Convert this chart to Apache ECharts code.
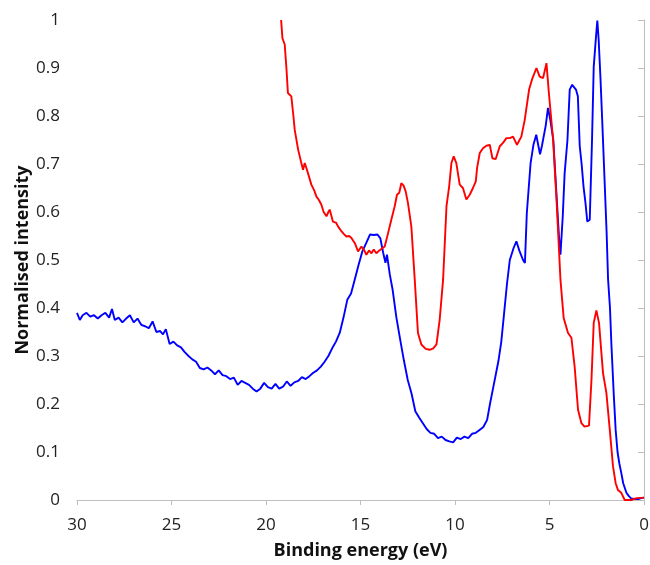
<!DOCTYPE html>
<html>
<head>
<meta charset="utf-8">
<script src="https://cdn.jsdelivr.net/npm/echarts@6/dist/echarts.min.js"></script>
<style>html,body{margin:0;padding:0;background:#fff}#c{width:650px;height:565px}</style>
</head>
<body>
<div id="c"></div>
<script>
var xTitle = 'Binding energy (eV)';
var yTitle = 'Normalised intensity';

var blueX = [30,29.85,29.7,29.5,29.3,29.1,28.9,28.7,28.5,28.3,28.15,28.0,27.8,27.6,27.4,27.2,27.0,26.8,26.6,26.4,26.2,26.0,25.8,25.6,25.45,25.3,25.1,24.9,24.7,24.5,24.3,24.1,23.9,23.7,23.5,23.3,23.1,22.9,22.7,22.5,22.3,22.1,21.9,21.7,21.5,21.3,21.1,20.9,20.7,20.5,20.3,20.1,19.9,19.7,19.5,19.3,19.1,18.9,18.7,18.5,18.3,18.1,17.9,17.7,17.5,17.3,17.1,16.9,16.7,16.5,16.3,16.1,15.9,15.7,15.5,15.3,15.1,14.9,14.7,14.5,14.3,14.1,13.95,13.8,13.68,13.6,13.45,13.3,13.1,12.9,12.7,12.5,12.3,12.1,11.9,11.7,11.5,11.3,11.1,10.9,10.7,10.5,10.3,10.1,9.9,9.7,9.5,9.3,9.1,8.9,8.7,8.5,8.3,8.15,8.0,7.85,7.7,7.55,7.4,7.25,7.1,6.9,6.75,6.6,6.4,6.3,6.2,6.1,6.0,5.85,5.7,5.6,5.5,5.4,5.3,5.2,5.08,4.95,4.8,4.65,4.5,4.42,4.3,4.2,4.05,3.93,3.8,3.72,3.6,3.5,3.4,3.3,3.2,3.1,3.0,2.87,2.75,2.66,2.55,2.47,2.4,2.3,2.2,2.08,1.98,1.9,1.8,1.72,1.6,1.5,1.4,1.3,1.2,1.1,0.93,0.8,0.67,0.5,0.3,0.15,0];
var blueY = [0.39,0.375,0.385,0.39,0.382,0.385,0.378,0.385,0.39,0.38,0.398,0.375,0.38,0.37,0.378,0.385,0.37,0.378,0.365,0.362,0.358,0.372,0.35,0.352,0.345,0.356,0.325,0.33,0.322,0.318,0.308,0.3,0.293,0.288,0.275,0.272,0.276,0.27,0.262,0.27,0.26,0.258,0.252,0.255,0.24,0.248,0.244,0.24,0.232,0.226,0.232,0.244,0.235,0.232,0.242,0.232,0.236,0.247,0.238,0.245,0.248,0.256,0.252,0.258,0.265,0.27,0.278,0.288,0.3,0.316,0.33,0.348,0.38,0.417,0.43,0.46,0.49,0.518,0.535,0.553,0.552,0.553,0.545,0.515,0.494,0.511,0.47,0.438,0.38,0.334,0.29,0.25,0.222,0.185,0.172,0.16,0.148,0.14,0.138,0.129,0.132,0.125,0.122,0.12,0.13,0.127,0.132,0.129,0.138,0.14,0.146,0.152,0.167,0.2,0.23,0.26,0.29,0.33,0.39,0.45,0.5,0.525,0.539,0.52,0.5,0.494,0.598,0.65,0.702,0.74,0.761,0.74,0.72,0.738,0.735,0.78,0.817,0.79,0.751,0.65,0.55,0.511,0.59,0.68,0.75,0.855,0.865,0.869,0.855,0.841,0.737,0.7,0.653,0.62,0.58,0.584,0.75,0.903,0.96,0.999,0.96,0.876,0.78,0.66,0.56,0.459,0.4,0.32,0.22,0.146,0.1,0.075,0.056,0.035,0.015,0.008,0.003,0.002,0.002,0.004,0.005];

var redX = [19.2,19.13,19.01,18.92,18.84,18.66,18.55,18.48,18.3,18.13,18.04,17.95,17.85,17.78,17.6,17.45,17.33,17.2,17.07,16.95,16.8,16.7,16.63,16.46,16.3,16.19,16.01,15.9,15.75,15.6,15.48,15.3,15.13,14.95,14.8,14.69,14.55,14.42,14.3,14.16,14.0,13.9,13.72,13.54,13.37,13.19,13.07,12.95,12.84,12.72,12.61,12.49,12.31,12.13,11.96,11.78,11.55,11.34,11.15,10.98,10.81,10.63,10.45,10.31,10.19,10.07,9.93,9.75,9.58,9.4,9.22,9.05,8.9,8.83,8.69,8.52,8.34,8.16,8.02,7.85,7.63,7.46,7.28,7.1,6.93,6.72,6.49,6.31,6.08,5.9,5.69,5.52,5.34,5.16,5.04,4.94,4.81,4.63,4.42,4.25,4.02,3.84,3.67,3.49,3.31,3.15,3.05,2.91,2.78,2.66,2.52,2.38,2.17,1.99,1.81,1.64,1.5,1.38,1.2,1.02,0.67,0.4,0];
var redY = [1.0,0.962,0.949,0.9,0.848,0.841,0.8,0.771,0.73,0.702,0.688,0.702,0.69,0.681,0.657,0.645,0.632,0.625,0.615,0.6,0.591,0.6,0.605,0.58,0.578,0.57,0.56,0.555,0.549,0.55,0.546,0.535,0.518,0.528,0.52,0.511,0.52,0.514,0.522,0.514,0.52,0.518,0.528,0.556,0.584,0.612,0.636,0.64,0.66,0.655,0.643,0.619,0.57,0.459,0.348,0.324,0.315,0.313,0.316,0.324,0.376,0.459,0.612,0.653,0.702,0.716,0.702,0.657,0.65,0.626,0.636,0.65,0.664,0.692,0.723,0.733,0.738,0.74,0.712,0.71,0.737,0.744,0.754,0.754,0.757,0.74,0.757,0.792,0.855,0.879,0.9,0.882,0.879,0.91,0.851,0.848,0.751,0.626,0.459,0.379,0.348,0.338,0.278,0.188,0.16,0.153,0.15,0.155,0.25,0.369,0.395,0.369,0.265,0.223,0.146,0.07,0.035,0.021,0.015,0.0,0.0,0.004,0.005];

function pairs(xs, ys){ var o=[]; for (var i=0;i<xs.length;i++) o.push([xs[i], ys[i]]); return o; }

var chart = echarts.init(document.getElementById('c'));
var axisTxt = {color:'#222', fontSize:17, fontFamily:'Open Sans'};
var titleTxt = {color:'#111', fontSize:18, fontWeight:'bold', fontFamily:'Open Sans'};
chart.setOption({
  animation:false,
  grid:{left:77, right:6, top:20, bottom:65, containLabel:false, outerBoundsMode:'none'},
  xAxis:{
    type:'value', min:0, max:30, interval:5, inverse:true,
    name:xTitle, nameLocation:'middle', nameGap:42, nameMoveOverlap:false,
    nameTextStyle:titleTxt,
    axisLine:{lineStyle:{color:'#bfbfbf', width:1}},
    axisTick:{show:true, length:5, lineStyle:{color:'#bfbfbf'}},
    axisLabel:Object.assign({margin:17}, axisTxt),
    splitLine:{show:false}
  },
  yAxis:{
    type:'value', min:0, max:1, interval:0.1,
    name:yTitle, nameLocation:'middle', nameGap:45, nameRotate:90, nameMoveOverlap:false,
    nameTextStyle:titleTxt,
    axisLine:{show:true, lineStyle:{color:'#bfbfbf', width:1}},
    axisTick:{show:true, length:6, lineStyle:{color:'#bfbfbf'}},
    axisLabel:Object.assign({margin:17}, axisTxt),
    splitLine:{show:false}
  },
  series:[
    {type:'line', data:pairs(blueX, blueY), showSymbol:false, symbol:'none', lineStyle:{color:'#0000ff', width:1.9}, itemStyle:{color:'#0000ff'}, clip:true},
    {type:'line', data:pairs(redX, redY), showSymbol:false, symbol:'none', lineStyle:{color:'#ff0000', width:1.9}, itemStyle:{color:'#ff0000'}, clip:true}
  ]
});
</script>
</body>
</html>
